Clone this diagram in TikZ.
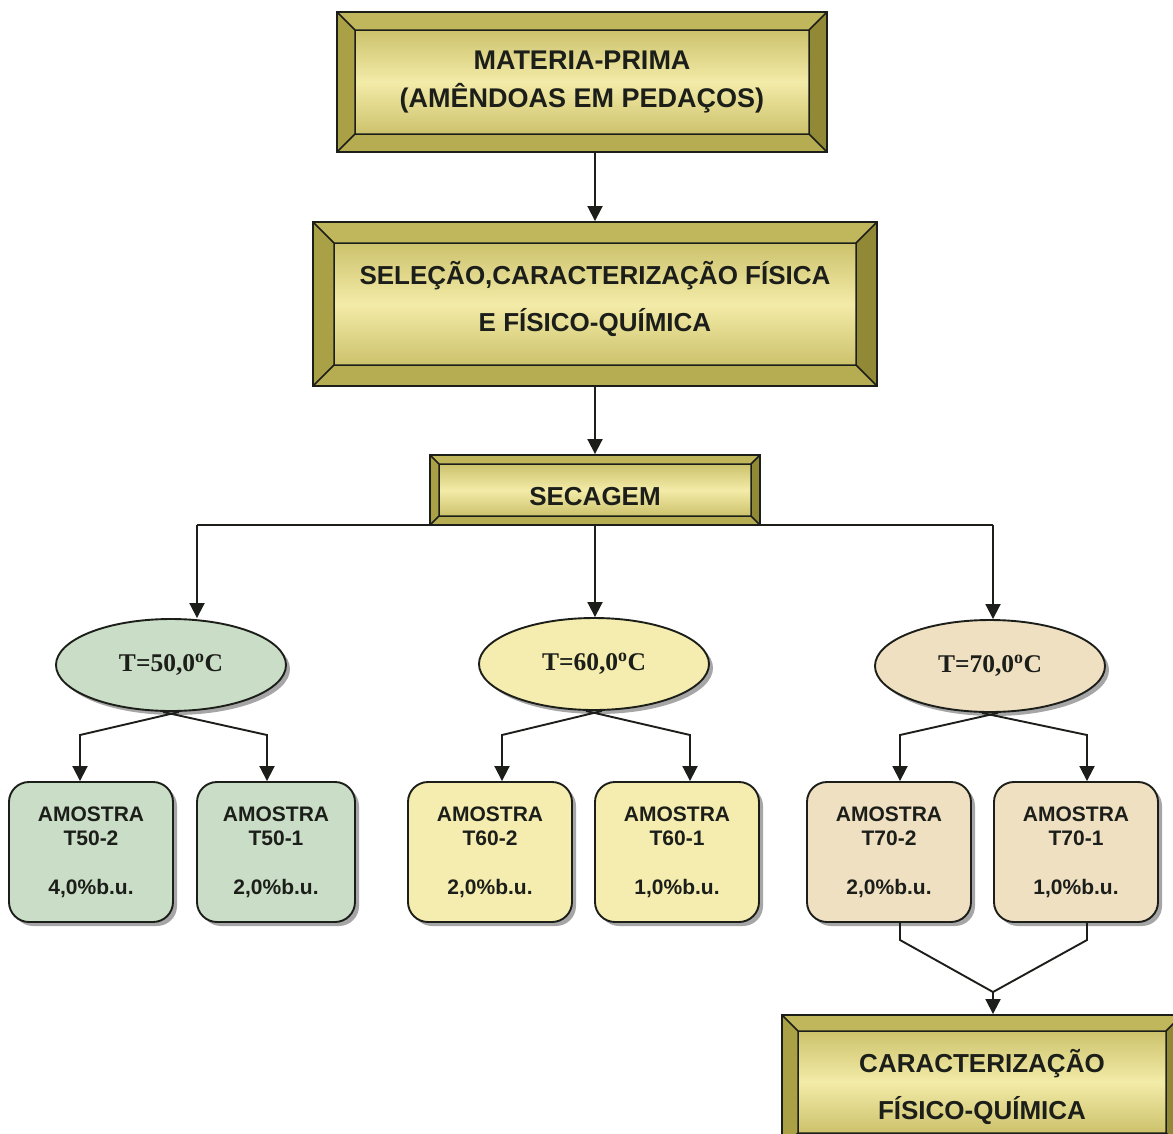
\documentclass[tikz,border=0pt]{standalone}
\usepackage{fontspec}
\setmainfont{Liberation Sans}
\newfontfamily\timesbf{Liberation Serif}
\usepackage{tikz}
\usetikzlibrary{arrows.meta, positioning, calc, shapes.geometric, shadows}

\definecolor{bvtop}{RGB}{192,182,92}
\definecolor{bvleft}{RGB}{170,161,70}
\definecolor{bvright}{RGB}{146,137,54}
\definecolor{bvbot}{RGB}{182,172,82}
\definecolor{bvedge}{RGB}{204,194,108}
\definecolor{bvmid}{RGB}{243,235,168}
\definecolor{sage}{RGB}{202,221,198}
\definecolor{cream}{RGB}{245,237,175}
\definecolor{sand}{RGB}{239,224,194}
\definecolor{ink}{RGB}{28,30,26}

\newcommand\bevelart[1]{%
  \coordinate (bnw) at (path picture bounding box.north west);
  \coordinate (bne) at (path picture bounding box.north east);
  \coordinate (bsw) at (path picture bounding box.south west);
  \coordinate (bse) at (path picture bounding box.south east);
  \coordinate (inw) at ([shift={(#1,-#1)}]bnw);
  \coordinate (ine) at ([shift={(-#1,-#1)}]bne);
  \coordinate (isw) at ([shift={(#1,#1)}]bsw);
  \coordinate (ise) at ([shift={(-#1,#1)}]bse);
  \fill[bvtop] (bnw) -- (bne) -- (ine) -- (inw) -- cycle;
  \fill[bvleft] (bnw) -- (bsw) -- (isw) -- (inw) -- cycle;
  \fill[bvright] (bne) -- (bse) -- (ise) -- (ine) -- cycle;
  \fill[bvbot] (bsw) -- (bse) -- (ise) -- (isw) -- cycle;
  \shade[top color=bvedge, bottom color=bvedge, middle color=bvmid] (inw) rectangle (ise);
  \draw[line width=1.5pt] (bnw) -- (inw) (bne) -- (ine) (bsw) -- (isw) (bse) -- (ise) (inw) rectangle (ise);
}

\begin{document}
\begin{tikzpicture}[x=1pt, y=-1pt, line width=1.9pt, color=ink, >={Triangle[width=15pt,length=15pt]},
    bevelbox/.style={draw, line width=1.9pt, fill=bvleft, align=center, inner sep=0pt, text=ink,
      font=\fontsize{26}{38}\selectfont\bfseries, path picture={\bevelart{#1}}},
    tnode/.style={ellipse, draw, minimum width=230pt, minimum height=92pt, inner sep=0pt,
      font=\timesbf\fontsize{25.5}{30}\selectfont\bfseries,
      drop shadow={shadow xshift=4pt, shadow yshift=-4pt, fill=black, opacity=.35}},
    sample/.style={draw, rounded corners=20pt, minimum width=164pt, minimum height=140pt, inner sep=0pt,
      align=center, font=\fontsize{21}{24}\selectfont\bfseries,
      drop shadow={shadow xshift=4pt, shadow yshift=-4pt, fill=black, opacity=.35}},
  ]
  \useasboundingbox (0,0) rectangle (1173,1133);
  \fill[white] (0,0) rectangle (1173,1133);
  \clip (0,0) rectangle (1173,1133);

  \node[bevelbox=18pt, minimum width=490pt, minimum height=140pt, font=\fontsize{27}{38}\selectfont\bfseries] (mp) at (582,82) {MATERIA-PRIMA\\(AMÊNDOAS EM PEDAÇOS)};
  \node[bevelbox=21pt, minimum width=564pt, minimum height=164pt] (sel) at (595,304) {SELEÇÃO,CARACTERIZAÇÃO FÍSICA\\[9pt]E FÍSICO-QUÍMICA\rule[-16pt]{0pt}{16pt}};
  \node[bevelbox=9pt, minimum width=330pt, minimum height=70pt] (sec) at (595,490) {\rule{0pt}{32pt}SECAGEM};

  \node[tnode, fill=sage]  (e50) at (171,665) {T=50,0\textsuperscript{o}C};
  \node[tnode, fill=cream] (e60) at (594,664) {T=60,0\textsuperscript{o}C};
  \node[tnode, fill=sand]  (e70) at (990,666) {T=70,0\textsuperscript{o}C};

  \node[sample, fill=sage] (a502) at (91,852) {AMOSTRA\\T50-2\\[25pt]4,0\%b.u.};
  \node[sample, fill=sage, minimum width=158pt] (a501) at (276,852) {AMOSTRA\\T50-1\\[25pt]2,0\%b.u.};
  \node[sample, fill=cream] (a602) at (490,852) {AMOSTRA\\T60-2\\[25pt]2,0\%b.u.};
  \node[sample, fill=cream] (a601) at (677,852) {AMOSTRA\\T60-1\\[25pt]1,0\%b.u.};
  \node[sample, fill=sand] (a702) at (889,852) {AMOSTRA\\T70-2\\[25pt]2,0\%b.u.};
  \node[sample, fill=sand] (a701) at (1076,852) {AMOSTRA\\T70-1\\[25pt]1,0\%b.u.};

  \node[bevelbox=16pt, minimum width=400pt, minimum height=134pt] (fin) at (982,1082) {\rule{0pt}{33pt}CARACTERIZAÇÃO\\[9pt]FÍSICO-QUÍMICA};

  \coordinate (j50) at (197,525);
  \coordinate (j70) at (993,525);
  \coordinate (jm) at (993,992);

  \draw[->] (mp.south -| sel.north) -- (sel.north);
  \draw[->] (sel) -- (sec);
  \draw (j50) -- (j70);
  \draw[->] (j50) -- (j50 |- e50.north);
  \draw[->] (sec.south) -- (sec.south |- e60.north);
  \draw[->] (j70) -- (j70 |- e70.north);

  \foreach \t/\xl/\xr in {50/80/267, 60/502/690, 70/900/1087} {
    \draw[->] ([xshift=8pt]e\t.south) -- (\xl,735) -- (a\t2.north -| \xl,0);
    \draw[->] ([xshift=-8pt]e\t.south) -- (\xr,735) -- (a\t1.north -| \xr,0);
  }

  \draw (a702.south -| 900,0) -- (900,940) -- (jm) -- (1087,940) -- (a701.south -| 1087,0);
  \draw[->] (jm) -- (jm |- fin.north);
\end{tikzpicture}
\end{document}
